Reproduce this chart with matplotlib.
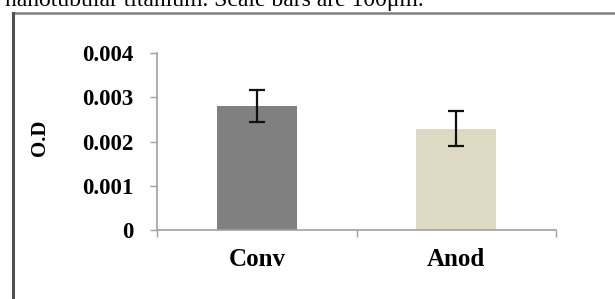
import matplotlib.pyplot as plt
from matplotlib.lines import Line2D
from matplotlib.ticker import FixedLocator

groups = ["Conv", "Anod"]
od = [0.0028, 0.00229]
od_err = [0.00037, 0.00039]
bar_colors = ["#808080", "#ddd9c3"]
yticks = [0, 0.001, 0.002, 0.003, 0.004]
ytick_labels = ["0", "0.001", "0.002", "0.003", "0.004"]

serif = "Liberation Serif"

fig = plt.figure(figsize=(6.15, 2.99), dpi=100)
ax = fig.add_axes([157 / 615, 1 - 230 / 299, 399 / 615, 177 / 299])

x = range(len(groups))
ax.bar(x, od, width=0.4, color=bar_colors, zorder=2)
ax.errorbar(x, od, yerr=od_err, fmt="none", ecolor="#111111",
            elinewidth=1.6, capsize=5.5, capthick=1.6, zorder=3)

ax.set_xlim(-0.5, 1.5)
ax.set_ylim(0, 0.004)
ax.set_yticks(yticks)
ax.set_yticklabels(ytick_labels, fontfamily=serif, fontweight="bold", fontsize=16.5)
ax.set_xticks(list(x))
ax.set_xticklabels(groups, fontfamily=serif, fontweight="bold", fontsize=18)
ax.xaxis.set_minor_locator(FixedLocator([-0.5, 0.5, 1.5]))
ax.tick_params(axis="x", which="major", length=0, pad=13)
ax.tick_params(axis="x", which="minor", length=5, color="#a0a0a0", width=1)
ax.tick_params(axis="y", length=5, color="#a0a0a0", width=1, pad=12)

for s in ["top", "right"]:
    ax.spines[s].set_visible(False)
for s in ["left", "bottom"]:
    ax.spines[s].set_color("#a0a0a0")
    ax.spines[s].set_linewidth(1.2)

fig.text(40 / 615, 1 - 138 / 299, "O.D", rotation=90, ha="center", va="center",
         fontfamily=serif, fontweight="bold", fontsize=15)

# caption cut off at top (as in the source page) and frame of the panel
fig.text(5 / 615, 1 - 6 / 299, "nanotubular titanium. Scale bars are 100μm.",
         fontfamily=serif, fontsize=17, ha="left", va="baseline")
fig.add_artist(Line2D([13 / 615, 1], [1 - 13 / 299, 1 - 13 / 299],
                      color="#808080", lw=1.8, transform=fig.transFigure))
fig.add_artist(Line2D([13 / 615, 13 / 615], [0, 1 - 13 / 299],
                      color="#505050", lw=2.2, transform=fig.transFigure))

fig.savefig("out.png", dpi=100)
